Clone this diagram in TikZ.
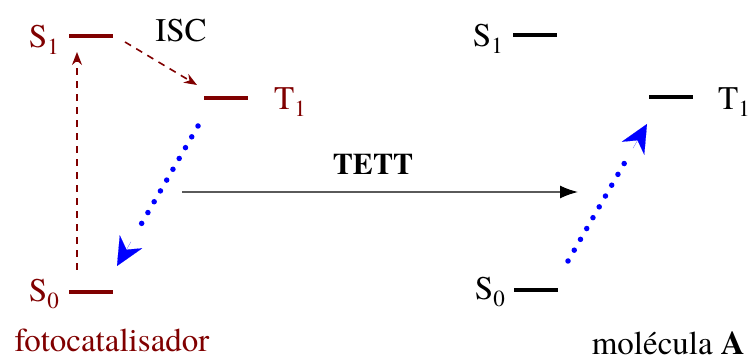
\documentclass[tikz,border=0pt]{standalone}
\usepackage{fontspec}
\setmainfont{texgyretermes}[Extension=.otf,UprightFont=*-regular,BoldFont=*-bold,ItalicFont=*-italic,BoldItalicFont=*-bolditalic]
\usetikzlibrary{arrows.meta,calc}
\definecolor{dred}{RGB}{128,0,0}
\newcommand{\lvl}[2]{#1\raisebox{-0.2em}{\fontsize{23}{23}\selectfont #2}}
\begin{document}
\begin{tikzpicture}[x=1pt,y=-1pt,
  txt/.style={inner sep=0pt,font=\fontsize{33}{36}\selectfont},
  level/.style={draw=none,fill=#1,minimum width=44pt,minimum height=4pt,inner sep=0pt},
  redarr/.style={dred,line width=1.6pt,dash pattern=on 7pt off 6pt,-{Stealth[length=13pt,width=10pt]}},
  blueline/.style={blue,line width=5.5pt,line cap=round,dash pattern=on 0pt off 12.5pt,shorten >=38pt},
  bluehead/.style={blue,line width=0.1pt,-{Stealth[length=28pt,width=26pt]}},
  tettarr/.style={draw={rgb,255:red,90;green,90;blue,90},line width=1.6pt,-{Latex[length=18pt,width=13pt,black]}}]
\useasboundingbox (0,0) rectangle (750,358);
% left (photocatalyst)
\node[level=dred] (S1a) at (91,36) {};
\node[level=dred] (T1a) at (226,98) {};
\node[level=dred] (S0a) at (91,292) {};
\node[txt,dred,anchor=east] (S1aL) at (59,40) {\lvl{S}{1}};
\node[txt,dred,anchor=west] (T1aL) at (274,102) {\lvl{T}{1}};
\node[txt,dred,anchor=east] (S0aL) at (59,294) {\lvl{S}{0}};
\node[txt] (isc) at (181,31) {ISC};
\node[txt,dred] (foto) at (112,340) {fotocatalisador};
% right (molecule A)
\node[level=black] (S1b) at (535,35) {};
\node[level=black] (T1b) at (671,97) {};
\node[level=black] (S0b) at (536,290) {};
\node[txt,anchor=east] (S1bL) at (503,39) {\lvl{S}{1}};
\node[txt,anchor=west] (T1bL) at (718,102) {\lvl{T}{1}};
\node[txt,anchor=east] (S0bL) at (505,292) {\lvl{S}{0}};
\node[txt,anchor=base east,text depth=0pt] (molA) at (745,354) {molécula \textbf{A}};
\node[txt,font=\fontsize{30}{33}\selectfont\bfseries] (tett) at (373,164) {TETT};
% arrow ends
\coordinate (r1s) at (77,270);
\coordinate (r1e) at (77,52);
\coordinate (iscs) at (125,42);
\coordinate (isce) at (197,85);
\coordinate (b1s) at (198,126);
\coordinate (b1e) at (117,266);
\coordinate (b2s) at (568,261);
\coordinate (b2e) at (647,124);
\coordinate (ts) at (182,192);
\coordinate (te) at (578,192);
\draw[redarr] (r1s) -- (r1e);
\draw[redarr] (iscs) -- (isce);
\draw[blueline] (b1s) -- (b1e);
\draw[bluehead] ($(b1e)!28pt!(b1s)$) -- (b1e);
\draw[blueline] (b2s) -- (b2e);
\draw[bluehead] ($(b2e)!28pt!(b2s)$) -- (b2e);
\draw[tettarr] (ts) -- (te);
\end{tikzpicture}
\end{document}
